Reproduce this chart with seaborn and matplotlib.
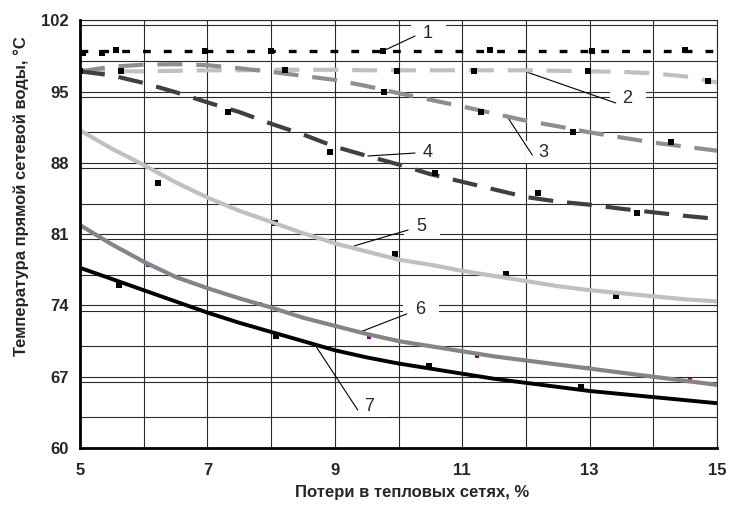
import matplotlib
matplotlib.use("Agg")
import matplotlib.pyplot as plt
import seaborn as sns
import pandas as pd
from matplotlib.ticker import MultipleLocator, FixedLocator

# ---------------- data ----------------
x_pts = [5.0, 5.5, 6.0, 6.5, 7.0, 7.5, 8.0, 8.5, 9.0, 9.5, 10.0,
         10.5, 11.0, 11.5, 12.0, 12.5, 13.0, 13.5, 14.0, 14.5, 15.0]

curve1 = [99.0, 99.0, 99.0, 99.0, 99.0, 99.0, 99.0, 99.0, 99.0, 99.0, 99.0,
          99.0, 99.0, 99.0, 99.0, 99.0, 99.0, 99.0, 99.0, 99.0, 99.0]
curve2 = [97.0, 97.0, 97.0, 97.05, 97.1, 97.1, 97.15, 97.15, 97.15, 97.1, 97.1,
          97.1, 97.1, 97.1, 97.1, 97.05, 97.0, 96.95, 96.8, 96.5, 95.9]
curve3 = [97.0, 97.45, 97.65, 97.7, 97.6, 97.3, 96.95, 96.55, 96.15, 95.55, 94.85,
          94.2, 93.55, 92.85, 92.15, 91.6, 91.0, 90.5, 90.0, 89.6, 89.2]
curve4 = [97.0, 96.6, 95.85, 94.95, 93.95, 93.0, 91.85, 90.8, 89.6, 88.7, 87.85,
          86.9, 86.15, 85.4, 84.65, 84.2, 83.9, 83.5, 83.15, 82.8, 82.5]
curve5 = [91.2, 89.4, 87.8, 86.1, 84.6, 83.3, 82.2, 81.1, 80.1, 79.3, 78.5,
          78.0, 77.4, 76.9, 76.4, 75.9, 75.5, 75.2, 74.9, 74.6, 74.4]
curve6 = [81.9, 80.0, 78.3, 76.8, 75.7, 74.7, 73.8, 72.8, 72.0, 71.2, 70.5,
          70.0, 69.5, 69.0, 68.6, 68.2, 67.8, 67.4, 67.0, 66.6, 66.2]
curve7 = [77.7, 76.6, 75.5, 74.4, 73.3, 72.3, 71.4, 70.5, 69.6, 68.9, 68.3,
          67.8, 67.3, 66.8, 66.4, 66.0, 65.6, 65.3, 65.0, 64.7, 64.4]

# measured points
pts1_x = [5.05, 5.35, 5.57, 6.96, 8.0, 9.75, 11.44, 13.03, 14.49]
pts1_y = [98.8, 98.8, 99.1, 99.0, 99.0, 99.0, 99.1, 99.0, 99.1]
pts2_x = [5.0, 5.64, 9.98, 11.18, 12.98, 14.86]
pts2_y = [97.0, 97.0, 97.0, 97.0, 97.0, 96.0]
pts3_x = [8.22, 9.78, 11.29, 12.74, 14.28]
pts3_y = [97.1, 95.0, 93.0, 91.0, 90.1]
pts4_x = [7.32, 8.93, 10.58, 12.19, 13.75]
pts4_y = [93.05, 89.05, 87.0, 85.05, 83.1]
pts5_x = [6.23, 8.06, 9.94, 11.68, 13.42]
pts5_y = [86.0, 82.1, 79.05, 77.05, 74.95]
pts6_x = [6.07, 7.82, 9.53, 11.23, 12.96, 14.58]
pts6_y = [78.0, 74.1, 70.95, 69.0, 67.9, 66.7]
pts7_x = [5.62, 8.07, 10.48, 12.86]
pts7_y = [76.0, 71.0, 68.05, 66.0]

x_ticks = [5, 7, 9, 11, 13, 15]
y_ticks = [60, 67, 74, 81, 88, 95, 102]

# curve number labels: (label, text x, text y, leader start x, y, leader end x, y)
labels = [("1", 10.47, 100.74, 9.79, 99.09, 10.26, 100.47),
          ("2", 13.60, 94.28, 11.92, 97.13, 13.41, 93.89),
          ("3", 12.28, 89.07, 11.70, 92.61, 12.10, 88.78),
          ("4", 10.46, 89.07, 9.52, 88.68, 10.26, 88.97),
          ("5", 10.37, 81.71, 9.30, 79.84, 10.15, 81.41),
          ("6", 10.35, 73.56, 9.36, 71.30, 10.13, 73.17),
          ("7", 9.55, 64.12, 8.69, 70.12, 9.36, 63.73)]

x_label = "Потери в тепловых сетях, %"
y_label = "Температура прямой сетевой воды, °С"

# ---------------- styling ----------------
sns.set_style("white")
plt.rcParams["font.family"] = ["Liberation Sans", "DejaVu Sans"]
plt.rcParams["lines.scale_dashes"] = False

fig = plt.figure(figsize=(7.29, 5.08), dpi=100)
ax = fig.add_axes([80 / 729, 1 - 448 / 508, 637 / 729, 427.6 / 508])

# dash patterns given in points (on, off)
curves = [
    (curve1, "black", 2.4, (5.6, 9.4)),
    (curve2, "#c0c0c0", 3.0, (18.0, 10.0)),
    (curve3, "#8e8e8e", 3.0, (18.0, 10.0)),
    (curve4, "#404040", 3.0, (18.0, 10.0)),
    (curve5, "#c0c0c0", 3.0, None),
    (curve6, "#858585", 3.0, None),
    (curve7, "black", 2.8, None),
]

# markers: upper series drawn above their lines, lower ones beneath
for px, py, col, sz, zo in [(pts1_x, pts1_y, "black", 16, 3.5),
                            (pts2_x, pts2_y, "black", 16, 3.5),
                            (pts3_x, pts3_y, "black", 16, 3.5),
                            (pts4_x, pts4_y, "black", 16, 3.5),
                            (pts5_x, pts5_y, "black", 16, 2.6),
                            (pts6_x, pts6_y, "#800080", 12, 2.6),
                            (pts7_x, pts7_y, "black", 14, 2.6)]:
    sns.scatterplot(x=px, y=py, ax=ax, marker="s", s=sz, color=col,
                    linewidth=0, zorder=zo)

for ys, col, lw, dash in curves:
    df = pd.DataFrame({"x": x_pts, "y": ys})
    sns.lineplot(data=df, x="x", y="y", ax=ax, color=col, linewidth=lw,
                 zorder=3, solid_capstyle="butt", dash_capstyle="butt")
    if dash is not None:
        ax.lines[-1].set_dashes(dash)

ax.set_xlim(5, 15)
ax.set_ylim(60, 102)
ax.xaxis.set_major_locator(FixedLocator(x_ticks))
ax.xaxis.set_minor_locator(MultipleLocator(1))
ax.yaxis.set_major_locator(FixedLocator(y_ticks))
ax.yaxis.set_minor_locator(MultipleLocator(3.5))
ax.grid(True, which="both", color="#2a2a2a", linewidth=0.8, zorder=1)
ax.set_axisbelow(True)

ax.tick_params(axis="both", which="minor", length=0)
ax.tick_params(axis="y", which="major", direction="out", length=5, width=1.2,
               pad=3, labelsize=12, color="black")
ax.tick_params(axis="x", which="major", direction="out", length=5, width=1.2,
               pad=6, labelsize=12, color="black")
for lab in ax.get_xticklabels() + ax.get_yticklabels():
    lab.set_fontweight("bold")

for side in ["top", "right"]:
    ax.spines[side].set_linewidth(0.8)
    ax.spines[side].set_color("#2a2a2a")
for side in ["left", "bottom"]:
    ax.spines[side].set_linewidth(2.0)
    ax.spines[side].set_color("black")
    ax.spines[side].set_zorder(4)

ax.set_xlabel("")
ax.set_ylabel("")
fig.text(412 / 729, 1 - 493 / 508, x_label, ha="center", va="center",
         fontsize=12, fontweight="bold")
fig.text(21 / 729, 1 - 196 / 508, y_label, ha="center", va="center",
         rotation=90, fontsize=12, fontweight="bold")

for txt, tx, ty, x0, y0, x1, y1 in labels:
    ax.plot([x0, x1], [y0, y1], color="black", linewidth=0.8, zorder=2.5)
    ax.text(tx, ty, "  " + txt + "  ", ha="center", va="center", fontsize=13,
            zorder=2, bbox=dict(boxstyle="square,pad=0.15", facecolor="white",
                                edgecolor="none"))

fig.savefig("out.png", dpi=100)
